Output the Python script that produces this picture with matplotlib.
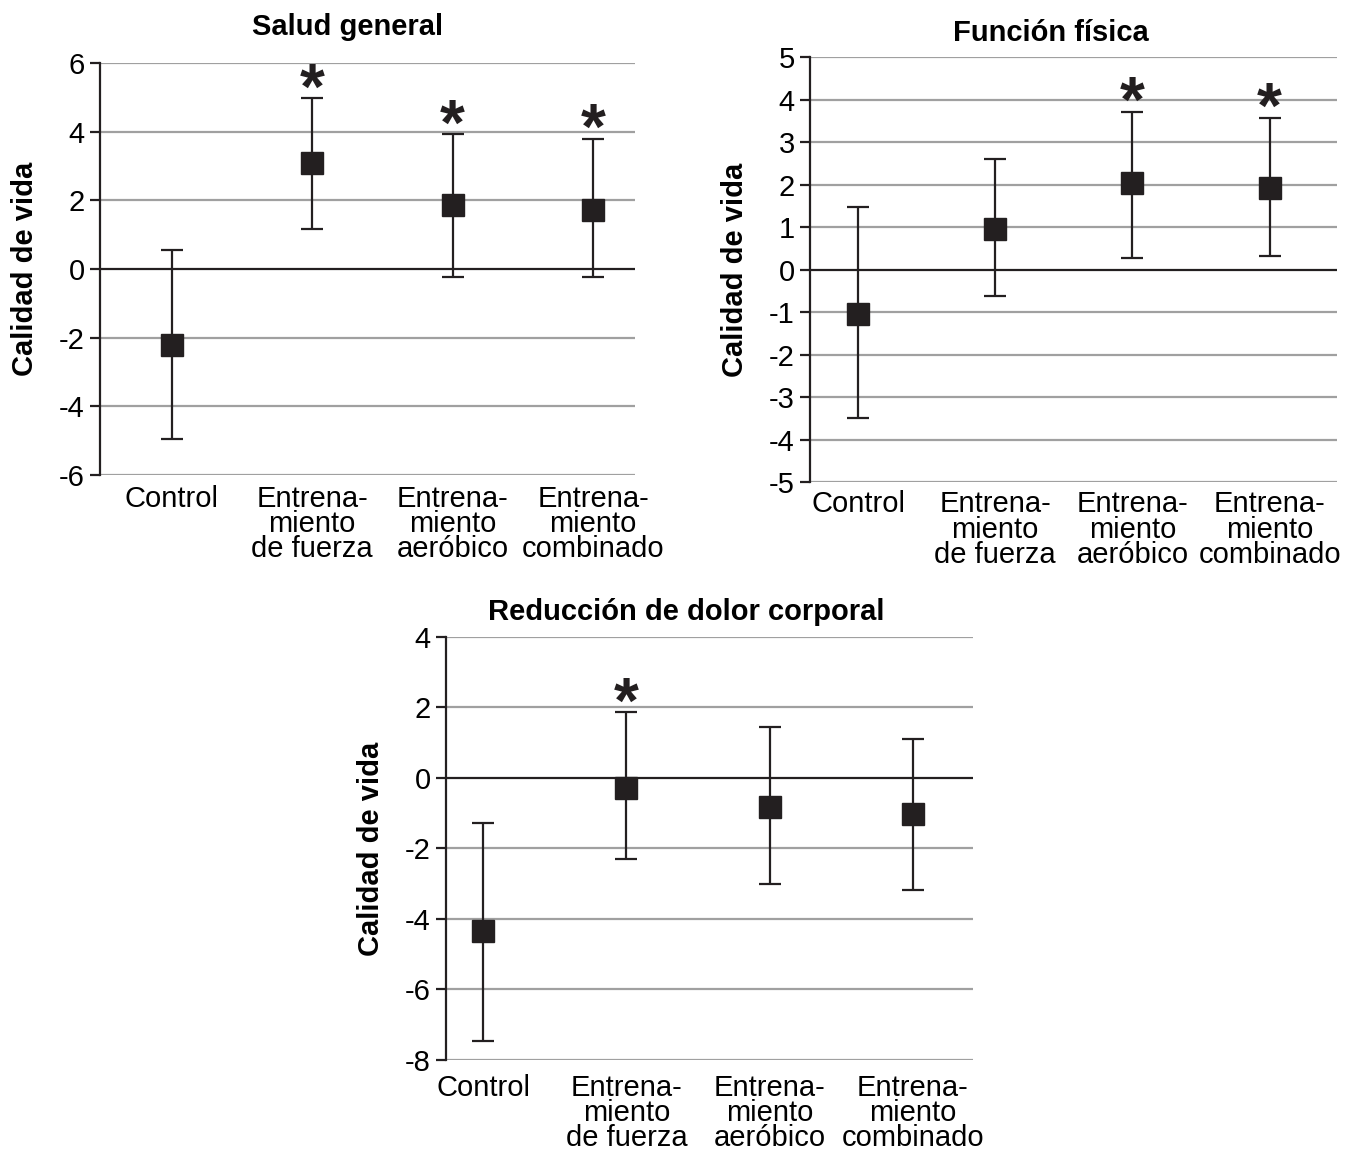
import numpy as np
import matplotlib
matplotlib.use("Agg")
import matplotlib.pyplot as plt

plt.rcParams['font.family'] = ['Liberation Sans', 'DejaVu Sans']

groups = ["Control", "Entrena-\nmiento\nde fuerza", "Entrena-\nmiento\naeróbico", "Entrena-\nmiento\ncombinado"]

# salud general
sg_mean = [-2.2, 3.1, 1.85, 1.72]
sg_low = [-4.95, 1.15, -0.22, -0.22]
sg_high = [0.55, 4.98, 3.93, 3.8]
sg_star = [False, True, True, True]

# funcion fisica
ff_mean = [-1.05, 0.95, 2.03, 1.93]
ff_low = [-3.5, -0.62, 0.28, 0.32]
ff_high = [1.48, 2.6, 3.72, 3.58]
ff_star = [False, False, True, True]

# reduccion de dolor corporal
dc_mean = [-4.35, -0.28, -0.82, -1.02]
dc_low = [-7.45, -2.3, -3.02, -3.18]
dc_high = [-1.28, 1.88, 1.45, 1.1]
dc_star = [False, True, False, False]

fig = plt.figure(figsize=(13.65, 11.51), dpi=100)
FS = 21


def panel(rect, title, tx, tpad, xpad, mean, low, high, star, yticks, xlim):
    ax = fig.add_axes(rect)
    x = np.arange(len(groups))
    mean = np.array(mean)
    yerr = [mean - np.array(low), np.array(high) - mean]
    for t in yticks:
        if t != 0:
            ax.axhline(t, color='#a0a0a0', lw=1.6, zorder=1)
    ax.axhline(0, color='#231f20', lw=1.6, zorder=2)
    ax.errorbar(x, mean, yerr=yerr, fmt='s', color='#231f20', ms=16,
                elinewidth=1.6, capsize=8, capthick=1.6, zorder=3)
    for xi, hi, s in zip(x, high, star):
        if s:
            ax.annotate('*', (xi, hi), xytext=(0, -17), textcoords='offset points',
                        ha='center', va='bottom', fontsize=46, fontweight='bold',
                        color='#231f20')
    ax.set_xlim(*xlim)
    ax.set_ylim(yticks[0], yticks[-1])
    ax.set_yticks(yticks)
    ax.set_yticklabels([str(t) for t in yticks])
    ax.set_xticks(x)
    ax.set_xticklabels(groups, linespacing=0.87)
    ax.tick_params(axis='x', length=0, pad=xpad, labelsize=FS)
    ax.tick_params(axis='y', length=7, width=1.6, direction='out', pad=4,
                   labelsize=FS, color='#231f20')
    for side in ['top', 'right', 'bottom']:
        ax.spines[side].set_visible(False)
    ax.spines['left'].set_linewidth(1.6)
    ax.spines['left'].set_color('#231f20')
    ax.set_ylabel('Calidad de vida', fontsize=FS, fontweight='bold', labelpad=14)
    ax.set_title(title, fontsize=FS, fontweight='bold', x=tx, pad=tpad)
    return ax


panel([0.0733, 0.5873, 0.392, 0.358], 'Salud general', 0.462, 20, 7,
      sg_mean, sg_low, sg_high, sg_star, list(range(-6, 7, 2)), (-0.51, 3.30))
panel([0.5934, 0.5812, 0.386, 0.369], 'Función física', 0.457, 12, 6,
      ff_mean, ff_low, ff_high, ff_star, list(range(-5, 6, 1)), (-0.35, 3.49))
panel([0.3267, 0.0791, 0.386, 0.3675], 'Reducción de dolor corporal', 0.457, 12, 10,
      dc_mean, dc_low, dc_high, dc_star, list(range(-8, 5, 2)), (-0.26, 3.42))

fig.savefig('out.png', dpi=100)
